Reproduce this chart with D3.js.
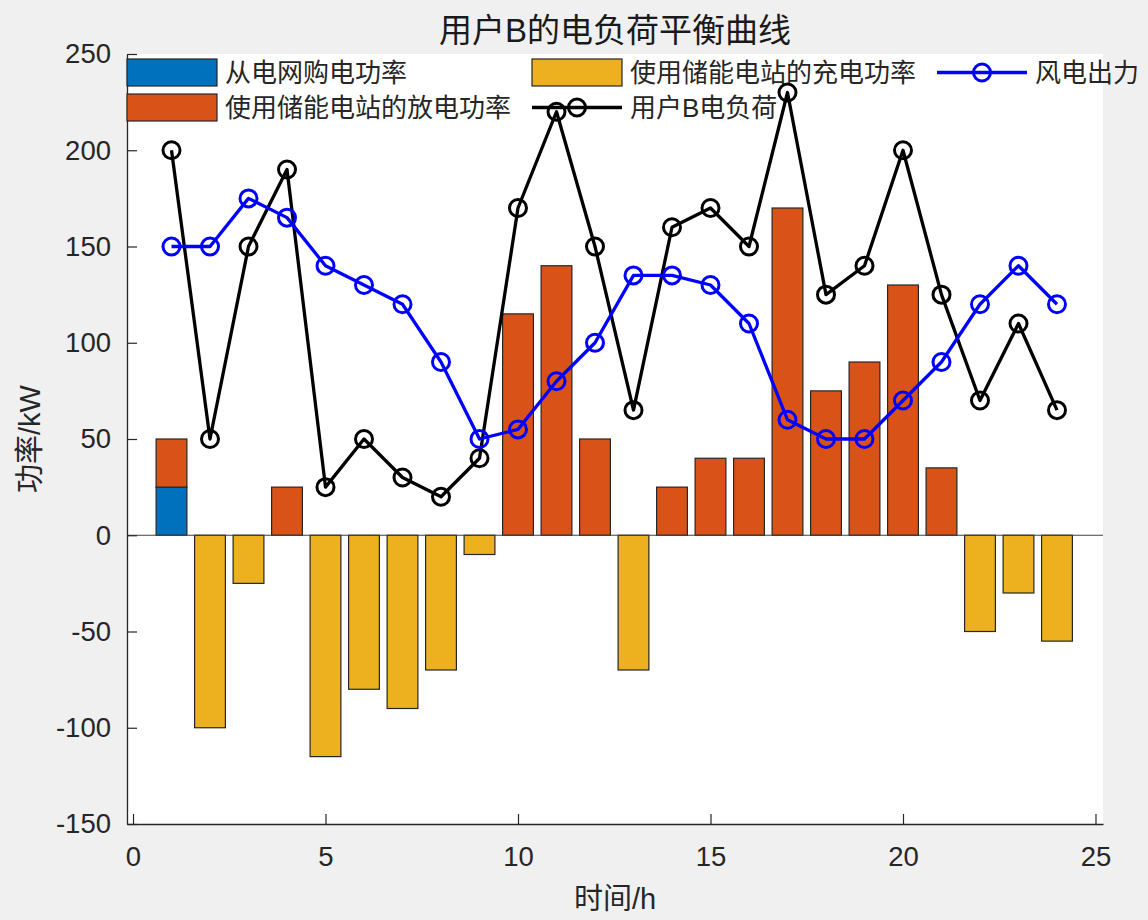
<!DOCTYPE html>
<html>
<head>
<meta charset="utf-8">
<script src="https://cdn.jsdelivr.net/npm/d3@7"></script>
<style>
  html, body { margin: 0; padding: 0; background: #f0f0f0; }
  svg { display: block; }
</style>
</head>
<body>
<svg id="chart" width="1148" height="920"></svg>
<script>
// ---------------- data ----------------
const hours = [1,2,3,4,5,6,7,8,9,10,11,12,13,14,15,16,17,18,19,20,21,22,23,24];
const gridBuy   = [25,0,0,0,0,0,0,0,0,0,0,0,0,0,0,0,0,0,0,0,0,0,0,0];
const discharge = [25,0,0,25,0,0,0,0,0,115,140,50,0,25,40,40,170,75,90,130,35,0,0,0];
const charge    = [0,-100,-25,0,-115,-80,-90,-70,-10,0,0,0,-70,0,0,0,0,0,0,0,0,-50,-30,-55];
const wind      = [150,150,175,165,140,130,120,90,50,55,80,100,135,135,130,110,60,50,50,70,90,120,140,120];
const load      = [200,50,150,190,25,50,30,20,40,170,220,150,65,160,170,150,230,125,140,200,125,70,110,65];
const xTicks = [0,5,10,15,20,25];
const yTicks = [-150,-100,-50,0,50,100,150,200,250];
const titleText = "用户B的电负荷平衡曲线";
const xLabel = "时间/h";
const yLabel = "功率/kW";
const seriesNames = {
  grid: "从电网购电功率",
  charge: "使用储能电站的充电功率",
  wind: "风电出力",
  discharge: "使用储能电站的放电功率",
  load: "用户B电负荷"
};
const colors = { grid: "#0072BD", discharge: "#D95319", charge: "#EDB120", wind: "#0000FF", load: "#000000" };

// ---------------- layout ----------------
const svg = d3.select("#chart");
const L = 127, R = 1103, T = 54, B = 824;
const fontNum = "'Liberation Sans', Arial, 'Noto Sans CJK SC', sans-serif";
const fontCJK = "'Liberation Sans', 'Noto Sans CJK SC', sans-serif";
const axisColor = "#262626";

const x = d3.scaleLinear().domain([-0.156, 25.195]).range([L, R]);
const y = d3.scaleLinear().domain([-150, 250]).range([B, T]);

svg.append("rect").attr("x", 0).attr("y", 0).attr("width", 1148).attr("height", 920).attr("fill", "#f0f0f0");
svg.append("rect").attr("x", L).attr("y", T).attr("width", R - L).attr("height", B - T).attr("fill", "#ffffff");

// ---------------- bars ----------------
const rows = hours.map((h, i) => ({ h, grid: gridBuy[i], discharge: discharge[i], charge: charge[i] }));
const stack = d3.stack().keys(["grid", "discharge", "charge"]).offset(d3.stackOffsetDiverging);
const stacked = stack(rows);
const barW = x(0.8) - x(0);

const barG = svg.append("g");
stacked.forEach(layer => {
  barG.selectAll(null)
    .data(layer.filter(d => d[1] !== d[0]))
    .join("rect")
    .attr("x", d => x(d.data.h) - barW / 2)
    .attr("width", barW)
    .attr("y", d => y(Math.max(d[0], d[1])))
    .attr("height", d => Math.abs(y(d[0]) - y(d[1])))
    .attr("fill", colors[layer.key])
    .attr("stroke", "#262626")
    .attr("stroke-width", 1.2);
});

// baseline
svg.append("line").attr("x1", L).attr("x2", R).attr("y1", y(0)).attr("y2", y(0))
  .attr("stroke", "#404040").attr("stroke-width", 1.2);

// ---------------- axes ----------------
const fmt = d => String(d);
const yAxis = d3.axisLeft(y).tickValues(yTicks).tickFormat(fmt).tickSizeInner(-10).tickSizeOuter(0).tickPadding(16);
const gy = svg.append("g").attr("transform", `translate(${L},0)`).call(yAxis);
const xAxis = d3.axisBottom(x).tickValues(xTicks).tickFormat(fmt).tickSizeInner(-10).tickSizeOuter(0).tickPadding(22);
const gx = svg.append("g").attr("transform", `translate(0,${B})`).call(xAxis);
[gx, gy].forEach(g => {
  g.select(".domain").attr("stroke", axisColor).attr("stroke-width", 1.3);
  g.selectAll(".tick line").attr("stroke", axisColor).attr("stroke-width", 1.2);
  g.selectAll(".tick text").attr("fill", axisColor).style("font-family", fontNum).style("font-size", "27.5px");
});

// ---------------- legend ----------------
const legend = svg.append("g");
const legFont = "26px";
function legPatch(px, cy, key) {
  legend.append("rect").attr("x", px).attr("y", cy - 13.5).attr("width", 90).attr("height", 27)
    .attr("fill", colors[key]).attr("stroke", "#262626").attr("stroke-width", 1.2);
}
function legLine(px, cy, key) {
  legend.append("line").attr("x1", px).attr("x2", px + 90).attr("y1", cy).attr("y2", cy)
    .attr("stroke", colors[key]).attr("stroke-width", 3.3);
  legend.append("circle").attr("cx", px + 45).attr("cy", cy).attr("r", 8.5)
    .attr("fill", "none").attr("stroke", colors[key]).attr("stroke-width", 3);
}
function legText(px, cy, key) {
  legend.append("text").attr("x", px).attr("y", cy).attr("dominant-baseline", "central")
    .attr("fill", axisColor).style("font-family", fontCJK).style("font-size", legFont)
    .text(seriesNames[key]);
}
const row1 = 72.5, row2 = 107.5;
legPatch(127, row1, "grid");      legText(225, row1, "grid");
legPatch(532, row1, "charge");    legText(630, row1, "charge");
legLine(937, row1, "wind");       legText(1035, row1, "wind");
legPatch(127, row2, "discharge"); legText(225, row2, "discharge");
legLine(532, row2, "load");       legText(630, row2, "load");

// ---------------- lines ----------------
function drawSeries(vals, key) {
  const pts = hours.map((h, i) => [h, vals[i]]);
  const line = d3.line().x(d => x(d[0])).y(d => y(d[1]));
  svg.append("path").datum(pts).attr("d", line).attr("fill", "none")
    .attr("stroke", colors[key]).attr("stroke-width", 3.3).attr("stroke-linejoin", "round");
  svg.append("g").selectAll("circle").data(pts).join("circle")
    .attr("cx", d => x(d[0])).attr("cy", d => y(d[1])).attr("r", 8.5)
    .attr("fill", "none").attr("stroke", colors[key]).attr("stroke-width", 3);
}
drawSeries(load, "load");
drawSeries(wind, "wind");

// ---------------- titles ----------------
svg.append("text").attr("x", (L + R) / 2).attr("y", 30).attr("text-anchor", "middle")
  .attr("dominant-baseline", "central").attr("fill", "#1a1a1a")
  .style("font-family", fontCJK).style("font-size", "33px").text(titleText);
svg.append("text").attr("x", (L + R) / 2).attr("y", 899).attr("text-anchor", "middle")
  .attr("dominant-baseline", "central").attr("fill", axisColor)
  .style("font-family", fontCJK).style("font-size", "29px").text(xLabel);
svg.append("text").attr("transform", `translate(30,${(T + B) / 2}) rotate(-90)`)
  .attr("text-anchor", "middle").attr("dominant-baseline", "central").attr("fill", axisColor)
  .style("font-family", fontCJK).style("font-size", "29px").text(yLabel);
</script>
</body>
</html>
